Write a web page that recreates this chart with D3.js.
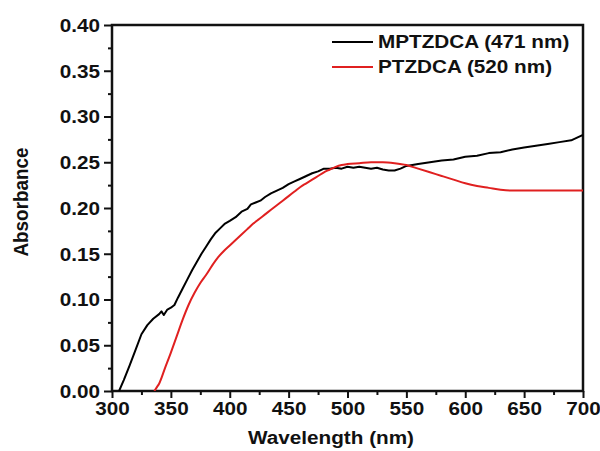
<!DOCTYPE html>
<html>
<head>
<meta charset="utf-8">
<script src="https://cdn.jsdelivr.net/npm/d3@7"></script>
<style>
  html, body { margin: 0; padding: 0; background: #fff; }
  svg text { font-family: "Liberation Sans", Arial, sans-serif; font-weight: bold; fill: #111; }
</style>
</head>
<body>
<svg id="chart" width="600" height="451"></svg>
<script>
// UV-vis absorption spectra of the two dyes
const seriesNames = ["MPTZDCA (471 nm)", "PTZDCA (520 nm)"];
const seriesColors = ["#000000", "#e02020"];

const mptzdcaWavelength = [306, 310, 315, 320, 325, 330, 335, 340, 342, 344, 347, 350, 353, 356, 360, 364, 368, 372, 376, 380,
  384, 388, 392, 396, 400, 405, 410, 415, 418, 422, 426, 430, 435, 440, 445, 450, 455, 460, 465, 470,
  475, 480, 485, 490, 495, 500, 505, 510, 515, 520, 525, 530, 535, 540, 545, 550, 555, 560, 570, 580,
  590, 600, 610, 620, 630, 640, 650, 660, 670, 680, 690, 695, 700];
const mptzdcaAbs = [0.000, 0.012, 0.028, 0.045, 0.062, 0.072, 0.079, 0.084, 0.087, 0.083, 0.089, 0.091, 0.094, 0.102, 0.112, 0.122, 0.132, 0.141, 0.150, 0.158,
  0.166, 0.173, 0.178, 0.183, 0.186, 0.190, 0.196, 0.199, 0.204, 0.206, 0.208, 0.212, 0.216, 0.219, 0.222, 0.226, 0.229, 0.232, 0.235, 0.238,
  0.240, 0.243, 0.243, 0.244, 0.243, 0.245, 0.244, 0.245, 0.244, 0.243, 0.244, 0.242, 0.241, 0.241, 0.243, 0.246, 0.247, 0.248, 0.250, 0.252,
  0.253, 0.256, 0.257, 0.260, 0.261, 0.264, 0.266, 0.268, 0.270, 0.272, 0.274, 0.277, 0.280];

const ptzdcaWavelength = [336, 338, 340, 345, 350, 355, 360, 365, 370, 375, 380, 385, 390, 395, 400, 405, 410, 415, 420, 425,
  430, 435, 440, 445, 450, 455, 460, 465, 470, 475, 480, 485, 490, 495, 500, 510, 520, 530, 540, 550,
  560, 570, 580, 590, 600, 610, 620, 630, 640, 650, 660, 670, 680, 690, 700];
const ptzdcaAbs = [0.000, 0.004, 0.008, 0.025, 0.042, 0.060, 0.078, 0.094, 0.107, 0.118, 0.127, 0.137, 0.146, 0.153, 0.159, 0.165, 0.171, 0.177, 0.183, 0.188,
  0.193, 0.198, 0.203, 0.208, 0.213, 0.218, 0.223, 0.227, 0.231, 0.235, 0.239, 0.242, 0.245, 0.247, 0.248, 0.249, 0.250, 0.250, 0.249, 0.247,
  0.243, 0.239, 0.235, 0.231, 0.227, 0.224, 0.222, 0.220, 0.219, 0.219, 0.219, 0.219, 0.219, 0.219, 0.219];

const xTicks = [300, 350, 400, 450, 500, 550, 600, 650, 700];
const yTicks = [0.00, 0.05, 0.10, 0.15, 0.20, 0.25, 0.30, 0.35, 0.40];

const margin = { left: 112, top: 25, right: 17, bottom: 60 };
const W = 600, H = 451;
const sx = 1.12; // horizontal stretch of the lettering

const svg = d3.select("#chart");
const x = d3.scaleLinear().domain([300, 700]).range([margin.left, W - margin.right]);
const y = d3.scaleLinear().domain([0, 0.40]).range([H - margin.bottom, margin.top]);

const minorX = d3.range(325, 700, 50);
const minorY = d3.range(0.025, 0.40, 0.05);

// minor ticks
svg.append("g").attr("transform", `translate(0,${y(0)})`)
  .call(d3.axisBottom(x).tickValues(minorX).tickSize(4).tickFormat(""))
  .call(g => g.select(".domain").remove())
  .selectAll("line").attr("stroke", "#111").attr("stroke-width", 2);
svg.append("g").attr("transform", `translate(${x(300)},0)`)
  .call(d3.axisLeft(y).tickValues(minorY).tickSize(4).tickFormat(""))
  .call(g => g.select(".domain").remove())
  .selectAll("line").attr("stroke", "#111").attr("stroke-width", 2);

// major axes
const xAxis = svg.append("g").attr("transform", `translate(0,${y(0)})`)
  .call(d3.axisBottom(x).tickValues(xTicks).tickSize(7).tickSizeOuter(0).tickFormat(d3.format("d")));
xAxis.select(".domain").remove();
xAxis.selectAll("line").attr("stroke", "#111").attr("stroke-width", 2);
xAxis.selectAll("text")
  .attr("font-size", 18.5).attr("y", 11).attr("dy", "0.71em")
  .attr("transform", `scale(${sx},1)`)
  .attr("x", 0);

const yAxis = svg.append("g").attr("transform", `translate(${x(300)},0)`)
  .call(d3.axisLeft(y).tickValues(yTicks).tickSize(8).tickSizeOuter(0).tickFormat(d3.format(".2f")));
yAxis.select(".domain").remove();
yAxis.selectAll("line").attr("stroke", "#111").attr("stroke-width", 2);
yAxis.selectAll("text")
  .attr("font-size", 18.5).attr("x", -12 / sx).attr("dy", "0.35em")
  .attr("transform", `scale(${sx},1)`);

// frame
svg.append("rect")
  .attr("x", x(300)).attr("y", y(0.40))
  .attr("width", x(700) - x(300)).attr("height", y(0) - y(0.40))
  .attr("fill", "none").attr("stroke", "#111").attr("stroke-width", 2.5);

// spectra
const clip = svg.append("clipPath").attr("id", "plotclip").append("rect")
  .attr("x", x(300)).attr("y", y(0.40))
  .attr("width", x(700) - x(300)).attr("height", y(0) - y(0.40));

const lineLinear = d3.line().x(d => x(d[0])).y(d => y(d[1]));
const lineSmooth = d3.line().x(d => x(d[0])).y(d => y(d[1])).curve(d3.curveMonotoneX);

svg.append("path")
  .datum(d3.zip(mptzdcaWavelength, mptzdcaAbs))
  .attr("d", lineLinear)
  .attr("fill", "none").attr("stroke", seriesColors[0]).attr("stroke-width", 2)
  .attr("stroke-linejoin", "round")
  .attr("clip-path", "url(#plotclip)");

svg.append("path")
  .datum(d3.zip(ptzdcaWavelength, ptzdcaAbs))
  .attr("d", lineSmooth)
  .attr("fill", "none").attr("stroke", seriesColors[1]).attr("stroke-width", 2)
  .attr("clip-path", "url(#plotclip)");

// legend
const legendY = [42, 67];
seriesNames.forEach((name, i) => {
  svg.append("line")
    .attr("x1", 332).attr("x2", 373)
    .attr("y1", legendY[i]).attr("y2", legendY[i])
    .attr("stroke", seriesColors[i]).attr("stroke-width", 2);
  svg.append("text")
    .attr("x", 378 / sx).attr("y", legendY[i]).attr("dy", "0.35em")
    .attr("font-size", 18.5)
    .attr("transform", `scale(${sx},1)`)
    .text(name);
});

// axis titles
svg.append("text")
  .attr("x", 331 / sx).attr("y", 438).attr("dy", "0.35em")
  .attr("text-anchor", "middle").attr("font-size", 18.5)
  .attr("transform", `scale(${sx},1)`)
  .text("Wavelength (nm)");

svg.append("text")
  .attr("transform", `translate(21,202) rotate(-90) scale(1.05,1.12)`)
  .attr("text-anchor", "middle").attr("dy", "0.35em")
  .attr("font-size", 18)
  .text("Absorbance");
</script>
</body>
</html>
